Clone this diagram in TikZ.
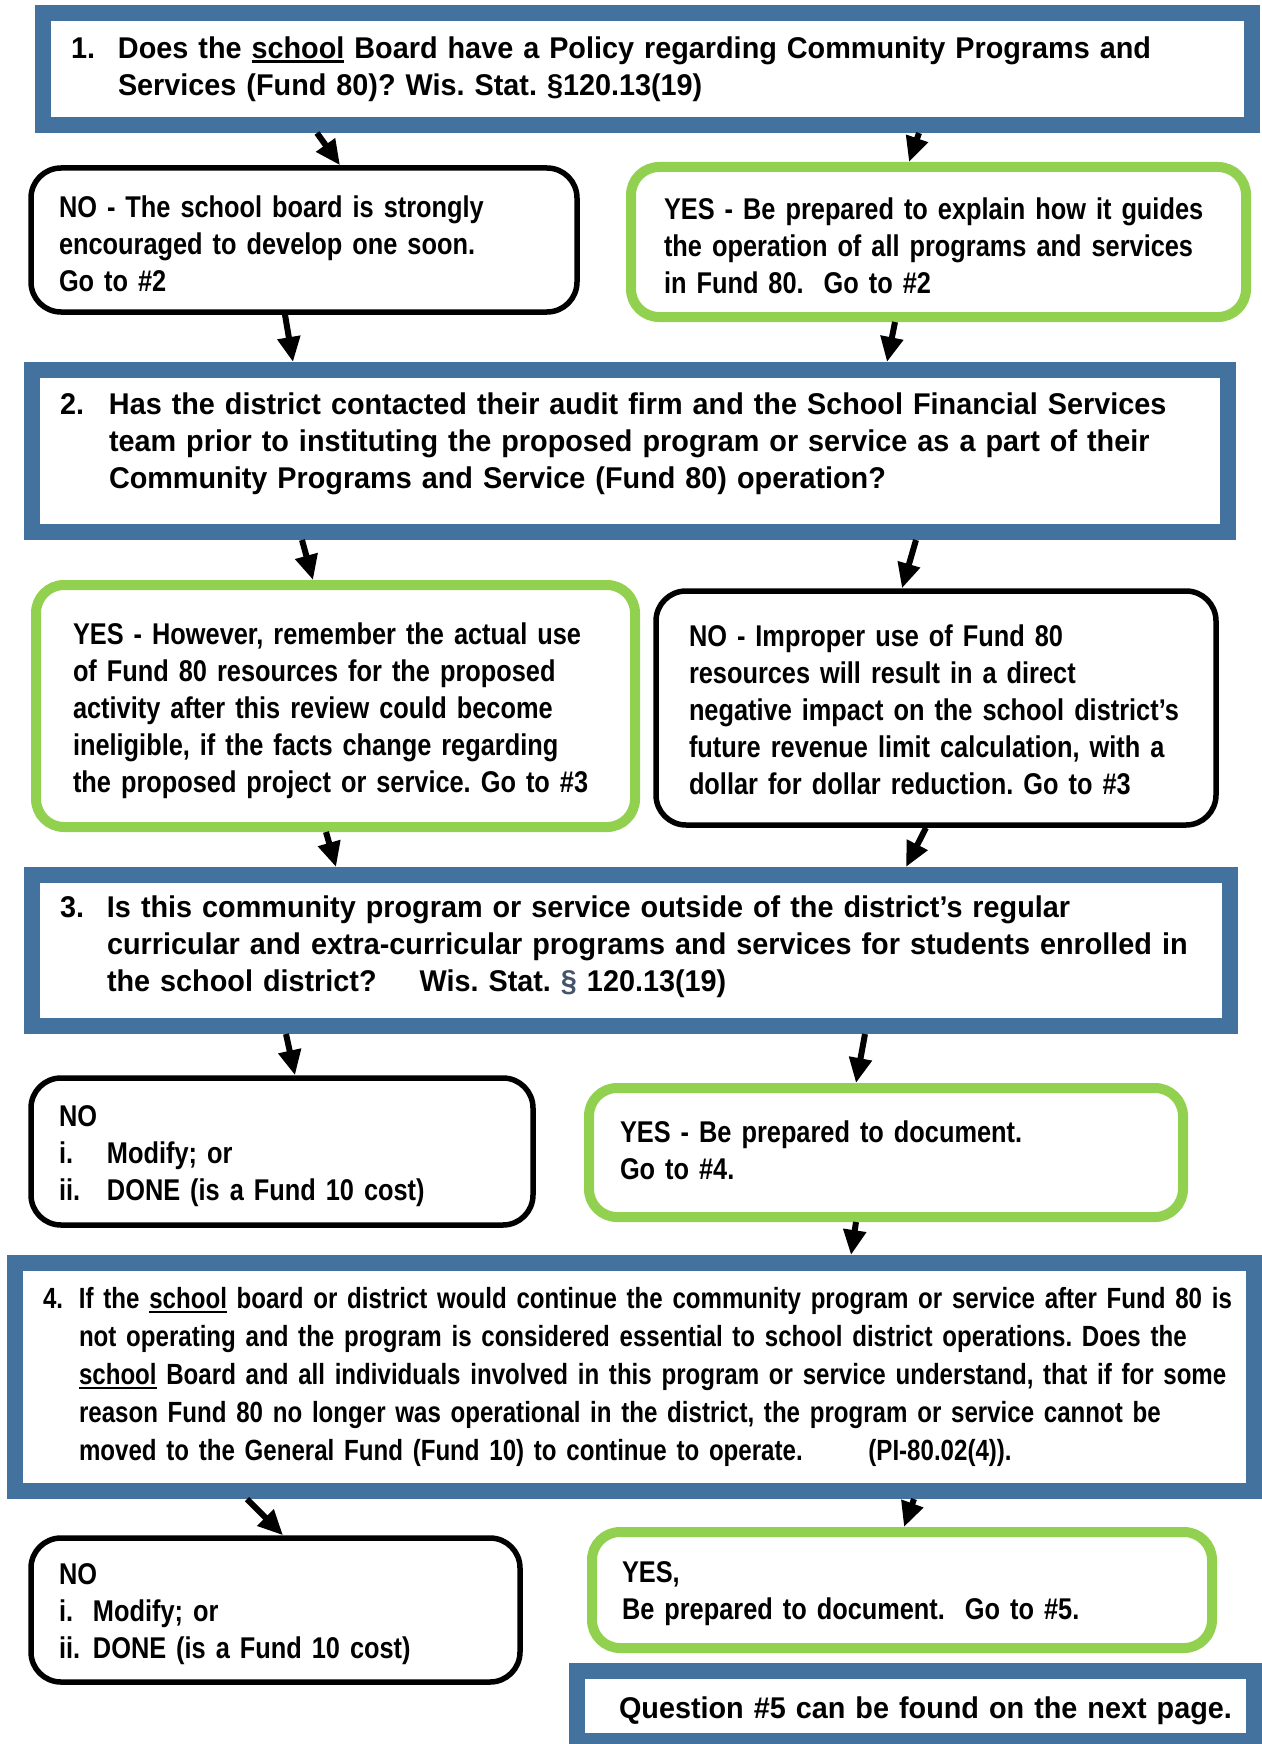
\documentclass[tikz,border=0pt]{standalone}
\usepackage{fontspec}
\usepackage{xcolor}
\usepackage{tikz}
\usetikzlibrary{arrows.meta}

\newfontfamily\askfont[FakeStretch=0.96]{Liberation Sans}
\newfontfamily\replyfont[FakeStretch=0.845]{Liberation Sans}
\newfontfamily\longfont[FakeStretch=0.825]{Liberation Sans}

\definecolor{boxblue}{HTML}{44729E}
\definecolor{yesgreen}{HTML}{92D050}
\definecolor{sectgray}{HTML}{44546A}

\setlength{\parindent}{0pt}
\frenchspacing
\newcommand{\qlabel}[2]{\makebox[#1][l]{#2}}
\newcommand{\uword}[1]{\setbox0=\hbox{#1}\rlap{\rule[-2.2pt]{\wd0}{1.1pt}}\box0\relax}
% invisible struts that push the text block down (top) or up (bottom)
\newcommand{\toppad}[1]{\rule{0pt}{\dimexpr11pt+#1\relax}}
\newcommand{\botpad}[1]{\rule[-\dimexpr3.2pt+#1\relax]{0pt}{\dimexpr3.2pt+#1\relax}}

\begin{document}
\begin{tikzpicture}[
    x=1pt, y=-1pt,
    qbox/.style={draw=boxblue, line width=8pt, fill=white, inner xsep=14pt, inner ysep=0pt, align=left,
        font=\askfont\bfseries\fontsize{15}{18.5}\selectfont, execute at begin node={\rightskip=-40pt plus 1fil}},
    nobox/.style={draw=black, line width=2.75pt, rounded corners=15pt, fill=white, inner ysep=0pt, align=left,
        font=\replyfont\bfseries\fontsize{15}{18.5}\selectfont, execute at begin node={\rightskip=-40pt plus 1fil}},
    yesbox/.style={nobox, draw=yesgreen, line width=5pt, rounded corners=14pt},
    arr/.style={line width=3pt, -{Triangle[length=12.5pt,width=11pt]}}
]
\useasboundingbox (0,0) rectangle (631,872);

% questions
\node[qbox, text width=576.5pt, minimum height=56pt] (q1) at (323.75,34.5)
    {\qlabel{23.5pt}{1.}Does the \uword{school} Board have a Policy regarding Community Programs and\\
     \hspace*{23.5pt}Services (Fund 80)? Wis. Stat. §120.13(19)};
\node[qbox, text width=570pt, minimum height=81pt] (q2) at (315,225.5)
    {\qlabel{24.5pt}{2.}Has the district contacted their audit firm and the School Financial Services\\
     \hspace*{24.5pt}team prior to instituting the proposed program or service as a part of their\\
     \hspace*{24.5pt}Community Programs and Service (Fund 80) operation?\botpad{7.2pt}};
\node[qbox, text width=571pt, minimum height=75.5pt] (q3) at (315.5,475.25)
    {\qlabel{23.5pt}{3.}Is this community program or service outside of the district’s regular\\
     \hspace*{23.5pt}curricular and extra-curricular programs and services for students enrolled in\\
     \hspace*{23.5pt}the school district?\hspace{16.5pt} Wis. Stat. {\color{sectgray}§} 120.13(19)\botpad{3.3pt}};
\node[qbox, font=\longfont\bfseries\fontsize{14.6}{19}\selectfont, text width=591.5pt, minimum height=114pt] (q4) at (317.25,688.5)
    {\qlabel{18pt}{4.}If the \uword{school} board or district would continue the community program or service after Fund 80 is\\
     \hspace*{18pt}not operating and the program is considered essential to school district operations. Does the\\
     \hspace*{18pt}\uword{school} Board and all individuals involved in this program or service understand, that if for some\\
     \hspace*{18pt}reason Fund 80 no longer was operational in the district, the program or service cannot be\\
     \hspace*{18pt}moved to the General Fund (Fund 10) to continue to operate.\hspace{28pt} (PI-80.02(4)).};
\node[qbox, text width=296.5pt, inner xsep=21pt, minimum height=35pt] (q5) at (457.75,853)
    {\toppad{4.4pt}Question \#5 can be found on the next page.};

% answers
\node[nobox, text width=245pt, inner xsep=14pt, minimum height=72pt] (a1n) at (152,120)
    {\toppad{3.3pt}NO - The school board is strongly\\encouraged to develop one soon.\\Go to \#2};
\node[yesbox, text width=274.5pt, inner xsep=16.5pt, minimum height=75pt] (a1y) at (469.25,121)
    {\toppad{3.3pt}YES - Be prepared to explain how it guides\\the operation of all programs and services\\in Fund 80.\ \ Go to \#2};
\node[yesbox, text width=262.5pt, inner xsep=18.5pt, minimum height=121pt] (a2y) at (167.75,353)
    {\toppad{4.4pt}YES - However, remember the actual use\\of Fund 80 resources for the proposed\\activity after this review could become\\ineligible, if the facts change regarding\\the proposed project or service. Go to \#3};
\node[nobox, text width=247pt, inner xsep=16.5pt, minimum height=117pt] (a2n) at (468,354)
    {\toppad{1.7pt}NO - Improper use of Fund 80\\resources will result in a direct\\negative impact on the school district’s\\future revenue limit calculation, with a\\dollar for dollar reduction. Go to \#3};
\node[nobox, text width=223pt, inner xsep=14pt, minimum height=73.5pt] (a3n) at (141,575.75)
    {\toppad{3.9pt}NO\\\qlabel{24pt}{i.}Modify; or\\\qlabel{24pt}{ii.}DONE (is a Fund 10 cost)};
\node[yesbox, text width=266pt, inner xsep=15.5pt, minimum height=64.5pt] (a3y) at (443,576.25)
    {YES - Be prepared to document.\\Go to \#4.\botpad{-0.5pt}};
\node[nobox, text width=216.5pt, inner xsep=14pt, minimum height=72pt] (a4n) at (137.75,805)
    {\toppad{3.3pt}NO\\\qlabel{17pt}{i.}Modify; or\\\qlabel{17pt}{ii.}DONE (is a Fund 10 cost)};
\node[yesbox, text width=280pt, inner xsep=15pt, minimum height=58pt] (a4y) at (451,795)
    {\toppad{3.3pt}YES,\\Be prepared to document.\ \ Go to \#5.};

% arrows
\draw[arr] ([xshift=-165.25pt]q1.south) -- ([xshift=18pt]a1n.north);
\draw[arr] ([xshift=135.75pt]q1.south) -- ([xshift=-14.75pt]a1y.north);
\draw[arr] ([xshift=-9.5pt]a1n.south) -- ([xshift=-168.5pt]q2.north);
\draw[arr] ([xshift=-21.75pt]a1y.south) -- ([xshift=128.5pt]q2.north);
\draw[arr] ([xshift=-164pt]q2.south) -- ([xshift=-11.25pt]a2y.north);
\draw[arr] ([xshift=143pt]q2.south) -- ([xshift=-17pt]a2n.north);
\draw[arr] ([xshift=-4.75pt]a2y.south) -- ([xshift=-147.5pt]q3.north);
\draw[arr] ([xshift=-5pt]a2n.south) -- ([xshift=137.5pt]q3.north);
\draw[arr] ([xshift=-172.5pt]q3.south) -- ([xshift=6.5pt]a3n.north);
\draw[arr] ([xshift=117pt]q3.south) -- ([xshift=-15pt]a3y.north);
\draw[arr] ([xshift=-15pt]a3y.south) -- ([xshift=108.25pt]q4.north);
\draw[arr] ([xshift=-193.75pt]q4.south) -- ([xshift=3.75pt]a4n.north);
\draw[arr] ([xshift=139.75pt]q4.south) -- ([xshift=1pt]a4y.north);
\end{tikzpicture}
\end{document}
